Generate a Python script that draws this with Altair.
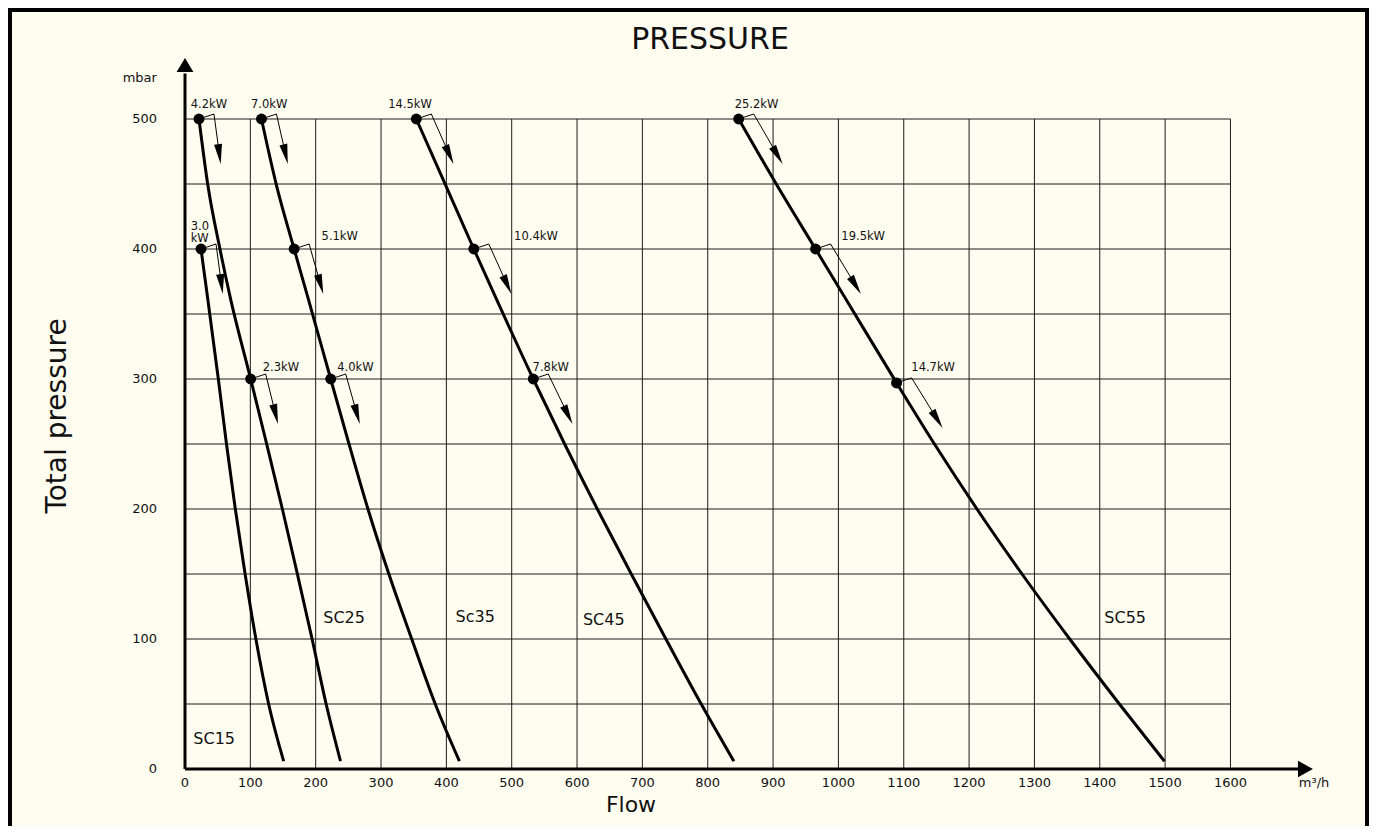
import altair as alt
import pandas as pd
import numpy as np

# ---------------- data ----------------
series_names = ["SC15", "SC25", "Sc35", "SC45", "SC55"]

sc15_flow = [24.5, 35, 51, 63.5, 77, 92, 108.5, 128, 151]
sc15_pres = [400, 361, 300, 250, 200, 150, 100, 50, 6]
sc25_flow = [21.4, 35, 53.5, 70, 100.5, 125, 149, 172, 194.5, 216, 238]
sc25_pres = [500, 449, 400, 361, 300, 250, 200, 150, 100, 50, 6]
sc35_flow = [117, 140, 167, 189, 223, 251, 280, 312, 347, 383, 420]
sc35_pres = [500, 449, 400, 361, 300, 250, 200, 150, 100, 50, 6]
sc45_flow = [354, 399, 442, 477, 533, 581, 631, 683, 736, 790, 840]
sc45_pres = [500, 449, 400, 361, 300, 250, 200, 150, 100, 50, 6]
sc55_flow = [847.4, 906, 965, 1012, 1089, 1147, 1212, 1281, 1354, 1430, 1499]
sc55_pres = [500, 449, 400, 361, 297, 250, 200, 150, 100, 50, 6]

dot_series = ["SC15", "SC25", "SC25", "Sc35", "Sc35", "Sc35",
              "SC45", "SC45", "SC45", "SC55", "SC55", "SC55"]
dot_flow = [24.5, 21.4, 100.5, 117, 167, 223, 354, 442, 533, 847.4, 965, 1089]
dot_pres = [400, 500, 300, 500, 400, 300, 500, 400, 300, 500, 400, 297]
dot_label = ["3.0\nkW", "4.2kW", "2.3kW", "7.0kW", "5.1kW", "4.0kW",
             "14.5kW", "10.4kW", "7.8kW", "25.2kW", "19.5kW", "14.7kW"]
dot_label_x = [8.7, 8.7, 118.9, 101, 209, 233, 311, 503.7, 532, 841.3, 1004.5, 1111.6]
dot_label_y = [417, 511, 308.7, 511, 409.5, 308.7, 511, 409.5, 308.5, 511, 409.5, 308.7]

series_label_x = [12.7, 211.6, 414, 609, 1407]
series_label_y = [22.8, 116.5, 117, 114.6, 116.5]

x_ticks = [0, 100, 200, 300, 400, 500, 600, 700, 800, 900, 1000, 1100, 1200,
           1300, 1400, 1500, 1600]
y_ticks = [0, 100, 200, 300, 400, 500]
y_grid = [50, 100, 150, 200, 250, 300, 350, 400, 450, 500]

unit_text = ["mbar", "m³/h"]
unit_x = [-43, 1728]
unit_y = [531.5, -10.8]

title_text = "PRESSURE"
x_title = "Flow"
y_title = "Total pressure"

# ---------------- layout ----------------
W, H = 1150, 715
XMAX, YMAX = 1760, 550
kx, ky = W / XMAX, H / YMAX
FONT = "DejaVu Sans"
INK = "#111111"
BG = "#FFFDF0"

xscale = alt.Scale(domain=[0, XMAX], nice=False, zero=False)
yscale = alt.Scale(domain=[0, YMAX], nice=False, zero=False)


def X(f):
    return alt.X(f, type="quantitative", scale=xscale, axis=None)


def Y(f):
    return alt.Y(f, type="quantitative", scale=yscale, axis=None)


# curves
flows = [sc15_flow, sc25_flow, sc35_flow, sc45_flow, sc55_flow]
press = [sc15_pres, sc25_pres, sc35_pres, sc45_pres, sc55_pres]
curve_rows = []
for name, fl, pr in zip(series_names, flows, press):
    for f, p in zip(fl, pr):
        curve_rows.append({"series": name, "flow": f, "pres": p})
curves_df = pd.DataFrame(curve_rows)

# annotation arrows (bracket + arrow parallel to the curve)
arrow_rows, head_rows = [], []
for i, (s, f, p) in enumerate(zip(dot_series, dot_flow, dot_pres)):
    k = series_names.index(s)
    fl, pr = flows[k], press[k]
    j = next(idx for idx in range(len(pr)) if pr[idx] < p)
    dxp = (fl[j] - f) * kx
    dyp = (p - pr[j]) * ky
    n = np.hypot(dxp, dyp)
    ux, uy = dxp / n, dyp / n
    cx, cy = f + 15 / kx, p + 5 / ky
    L = 50 / uy
    tx, ty = cx + L * ux / kx, cy - L * uy / ky
    arrow_rows += [
        {"id": i, "o": 0, "x": f, "y": p},
        {"id": i, "o": 1, "x": cx, "y": cy},
        {"id": i, "o": 2, "x": tx - 6 * ux / kx, "y": ty + 6 * uy / ky},
    ]
    ang = float(np.degrees(np.arctan2(-ux, uy))) % 360
    head_rows.append({"x": tx - 10 * ux / kx, "y": ty + 10 * uy / ky, "ang": ang})
arrows_df = pd.DataFrame(arrow_rows)
heads_df = pd.DataFrame(head_rows)

dots_df = pd.DataFrame({"series": dot_series, "flow": dot_flow, "pres": dot_pres})
dlab_df = pd.DataFrame({"t": dot_label, "x": dot_label_x, "y": dot_label_y})
slab_df = pd.DataFrame({"t": series_names, "x": series_label_x, "y": series_label_y})
unit_df = pd.DataFrame({"t": unit_text, "x": unit_x, "y": unit_y})

xtick_df = pd.DataFrame({"v": x_ticks, "t": [str(v) for v in x_ticks]})
ytick_df = pd.DataFrame({"v": y_ticks, "t": [str(v) for v in y_ticks]})

vgrid_df = pd.DataFrame({"x": x_ticks[1:], "y": 0, "y2": y_grid[-1]})
hgrid_df = pd.DataFrame({"y": y_grid, "x": 0, "x2": x_ticks[-1]})

axis_df = pd.DataFrame({"x": [0, 0], "y": [0, 0], "x2": [0, 1706], "y2": [535, 0]})
axhead_df = pd.DataFrame({"x": [0, 1714.8], "y": [541.5, 0]})

one = pd.DataFrame({"a": [0]})

# ---------------- layers ----------------
frame = alt.Chart(one).mark_rect(fillOpacity=0, stroke="#000000", strokeWidth=4).encode(
    x=alt.value(-175), x2=alt.value(W + 32), y=alt.value(-44), y2=alt.value(H + 90)
)

vgrid = alt.Chart(vgrid_df).mark_rule(color="#1a1a1a", strokeWidth=1).encode(
    x=X("x"), y=Y("y"), y2="y2"
)
hgrid = alt.Chart(hgrid_df).mark_rule(color="#1a1a1a", strokeWidth=1).encode(
    y=Y("y"), x=X("x"), x2="x2"
)

axes_lines = alt.Chart(axis_df).mark_rule(color="#000000", strokeWidth=3).encode(
    x=X("x"), y=Y("y"), x2="x2", y2="y2"
)
yhead = alt.Chart(axhead_df.iloc[[0]]).mark_point(
    shape="M0,-1L1.2,1L-1.2,1Z", size=196, filled=True, color="#000000", opacity=1
).encode(x=X("x"), y=Y("y"))
xhead = alt.Chart(axhead_df.iloc[[1]]).mark_point(
    shape="M1,0L-1,1.1L-1,-1.1Z", size=225, filled=True, color="#000000", opacity=1
).encode(x=X("x"), y=Y("y"))

xtick_labels = alt.Chart(xtick_df).mark_text(
    font=FONT, fontSize=13, color=INK, align="center", baseline="middle", dy=14
).encode(x=X("v"), y=alt.value(H), text="t:N")
ytick_labels = alt.Chart(ytick_df).mark_text(
    font=FONT, fontSize=13, color=INK, align="right", baseline="middle", dx=-28
).encode(x=alt.value(0), y=Y("v"), text="t:N")

xtitle = alt.Chart(pd.DataFrame({"t": [x_title]})).mark_text(
    font=FONT, fontSize=22, color=INK, align="center", baseline="middle"
).encode(x=alt.value(446), y=alt.value(H + 36), text="t:N")
ytitle = alt.Chart(pd.DataFrame({"t": [y_title]})).mark_text(
    font=FONT, fontSize=28, color=INK, align="center", baseline="middle", angle=270
).encode(x=alt.value(-127), y=alt.value(362), text="t:N")

curves = alt.Chart(curves_df).mark_line(
    color="#000000", strokeWidth=3, interpolate="monotone"
).encode(
    x=X("flow"), y=Y("pres"), detail="series:N", order=alt.Order("flow:Q")
)

arrow_lines = alt.Chart(arrows_df).mark_line(color="#000000", strokeWidth=1).encode(
    x=X("x"), y=Y("y"), detail="id:N", order=alt.Order("o:Q")
)
arrow_heads = alt.Chart(heads_df).mark_point(
    shape="M-0.4,-1L0.4,-1L0,1Z", size=400, filled=True, color="#000000", opacity=1
).encode(x=X("x"), y=Y("y"), angle=alt.Angle("ang:Q", scale=None))

dots = alt.Chart(dots_df).mark_circle(size=120, color="#000000", opacity=1).encode(
    x=X("flow"), y=Y("pres")
)

dot_labels = alt.Chart(dlab_df).mark_text(
    font=FONT, fontSize=11.5, color=INK, align="left", baseline="middle",
    lineBreak="\n", lineHeight=12
).encode(x=X("x"), y=Y("y"), text="t:N")

series_labels = alt.Chart(slab_df).mark_text(
    font=FONT, fontSize=16, color=INK, align="left", baseline="middle"
).encode(x=X("x"), y=Y("y"), text="t:N")

unit_mbar = alt.Chart(unit_df.iloc[[0]]).mark_text(
    font=FONT, fontSize=13, color=INK, align="right", baseline="middle"
).encode(x=X("x"), y=Y("y"), text="t:N")
unit_flow = alt.Chart(unit_df.iloc[[1]]).mark_text(
    font=FONT, fontSize=13, color=INK, align="center", baseline="middle"
).encode(x=X("x"), y=Y("y"), text="t:N")

title = alt.Chart(pd.DataFrame({"t": [title_text]})).mark_text(
    font=FONT, fontSize=30, color=INK, align="center", baseline="middle"
).encode(x=alt.value(525), y=alt.value(-14), text="t:N")

chart = alt.layer(
    vgrid, hgrid, curves, axes_lines, yhead, xhead, arrow_lines, arrow_heads, dots,
    dot_labels, series_labels, unit_mbar, unit_flow, xtick_labels, ytick_labels,
    xtitle, ytitle, title, frame
).properties(
    width=W, height=H,
    autosize=alt.AutoSizeParams(type="none"),
    padding={"left": 177, "top": 46, "right": 34, "bottom": 57},
    background=BG,
).configure_view(stroke="transparent")

chart.save("out.html", embed_options={"renderer": "svg", "actions": False})
